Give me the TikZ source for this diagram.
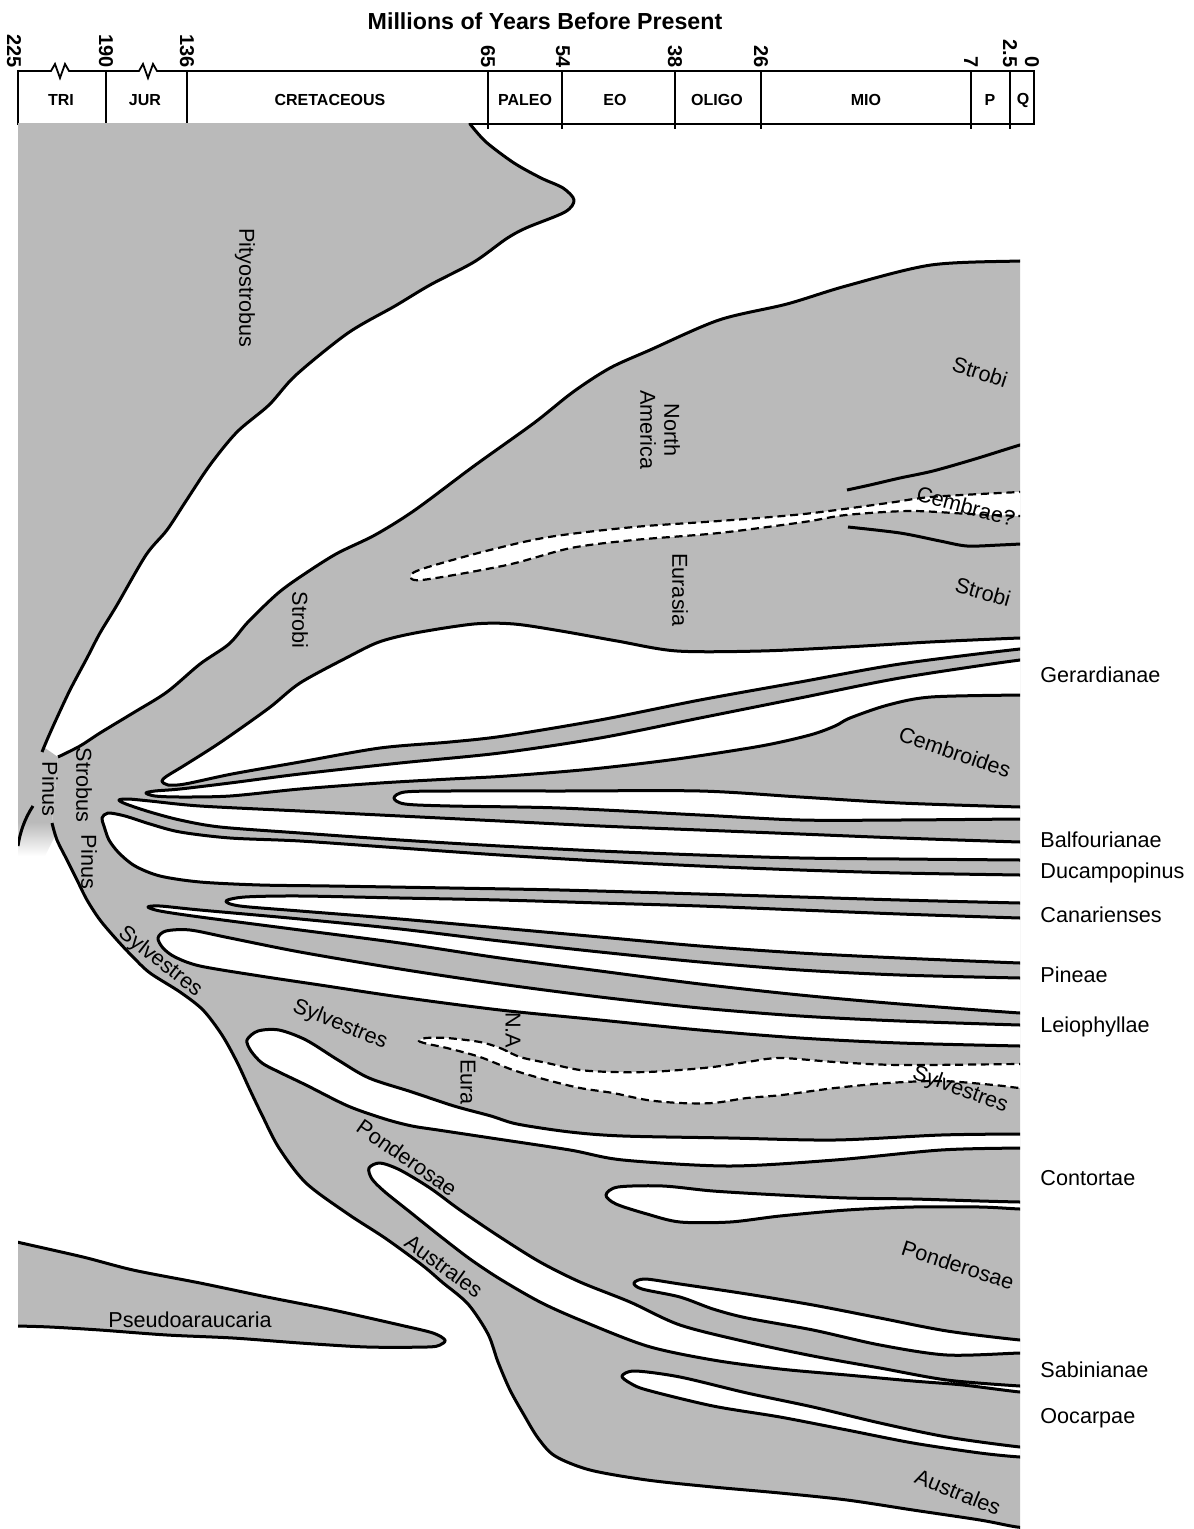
\documentclass[tikz,border=0pt]{standalone}
\usepackage{fontspec}
\setmainfont{Liberation Sans}
\definecolor{stip}{gray}{0.73}

\begin{document}
\begin{tikzpicture}[x=0.5pt, y=-0.5pt,
  band/.style={fill=stip, draw=black, line width=1.5pt, line join=round},
  gap/.style={fill=white, draw=black, line width=1.5pt, line join=round},
  dgap/.style={fill=white, draw=black, line width=1.1pt, dash pattern=on 4pt off 2.4pt},
  rim/.style={draw=black, line width=1.5pt},
  axis/.style={draw=black, line width=0.9pt},
  clade/.style={font=\fontsize{10.8}{12}\selectfont, inner sep=0pt},
  sect/.style={font=\fontsize{10.8}{12}\selectfont, anchor=west, inner sep=0pt},
  per/.style={font=\bfseries\fontsize{8}{9}\selectfont, inner sep=0pt},
  age/.style={font=\bfseries\fontsize{10}{11}\selectfont, rotate=-90, anchor=east, inner sep=0pt}]
\useasboundingbox (0,0) rectangle (1193,1529);

\node[font=\bfseries\fontsize{11.6}{13}\selectfont] (title) at (545,21) {Millions of Years Before Present};
\draw[axis] (18,124) -- (18,71) -- (51,71) -- (55,64) -- (60,78) -- (65,64) -- (69,71) -- (139,71)
  -- (143,64) -- (148,78) -- (153,64) -- (157,71) -- (1034,71) -- (1034,124) -- cycle;
\foreach \x in {106,187,488,562,675,761,971,1010}
  \draw[axis] (\x,71) -- (\x,129);
\foreach \x/\a [count=\i] in {14/225,106/190,187/136,488/65,563/54,675/38,761/26,971/7,1010/2.5,1032/0}
  \node[age] (age\i) at (\x,68) {\a};
\foreach \x/\p [count=\i] in {61/TRI,145/JUR,330/CRETACEOUS,525/PALEO,615/EO,717/OLIGO,866/MIO,990/P,1023/Q}
  \node[per] (per\i) at (\x,100) {\p};

\begin{scope}
\clip (18,124) rectangle (1020,1529);
\fill[stip] (10,730) -- (45,748) -- (58,757) -- (52,823) -- (10,823) -- cycle;
\shade[top color=stip, bottom color=white] (10,822) -- (52,822) -- (55,836) -- (45,856) -- (10,856) -- cycle;
\filldraw[band] (10,770) -- (10,110) -- (470,110) -- plot[smooth] coordinates {(470,124) (486,142) (514,163)
  (541,178) (563,188) (574,200) (565,212) (526,228) (506,239) (474,262) (430,285) (395,306) (348,333)
  (296,375) (269,405) (237,432) (210,465) (186,501) (167,530) (146,555) (117,605) (100,633) (87,658)
  (70,690) (55,722) (47,740) (42,752)};
\filldraw[band] plot[smooth] coordinates {(58,757) (80,746) (100,733) (133,713) (167,692) (200,664)
  (229,644) (248,622) (277,594) (300,577) (336,554) (375,535) (415,510) (474,466) (534,423) (573,392)
  (610,368) (650,350) (719,320) (787,304) (846,286) (931,265) (1020,261) (1040,261)}
  -- (1040,1540) -- plot[smooth] coordinates {(1040,1528) (1017,1527) (980,1520) (913,1510) (847,1500)
  (780,1493) (713,1487) (647,1480) (590,1470) (555,1456) (538,1438) (524,1415) (510,1390) (498,1362)
  (488,1334) (468,1304) (442,1282) (422,1265) (385,1238) (348,1214) (306,1183) (279,1148) (262,1115)
  (250,1090) (237,1062) (222,1035) (203,1010) (180,992) (150,973) (133,957) (117,940) (100,920)
  (87,900) (77,880) (67,860) (57,840) (52,823)};
\filldraw[gap] plot[smooth] coordinates {(1040,638) (1020,638) (930,642) (846,647) (761,651) (677,651)
  (617,641) (561,631) (514,624) (474,624) (415,633) (379,642) (348,657) (300,683) (269,708) (221,742)
  (185,765) (167,776) (162,781) (168,785) (185,784) (232,774) (300,762) (380,748) (450,742) (504,736)
  (600,720) (700,700) (800,682) (900,664) (1020,649) (1040,649)};
\filldraw[gap] plot[smooth] coordinates {(1040,660) (1020,660) (900,678) (800,698) (700,718) (600,738)
  (500,753) (400,763) (300,774) (230,783) (180,789) (155,791) (146,793) (155,796) (180,797) (230,796)
  (300,789) (380,783) (450,779) (507,776) (592,769) (677,759) (761,746) (810,735) (835,726) (850,718)
  (888,705) (931,697) (1020,695) (1040,695)};
\filldraw[gap] plot[smooth] coordinates {(1040,807) (1020,807) (900,803) (800,797) (700,791) (560,791)
  (450,791) (405,792) (394,798) (405,804) (450,806) (560,808) (700,815) (800,820) (900,820) (1020,819)
  (1040,819)};
\filldraw[gap] plot[smooth] coordinates {(1040,842) (1020,842) (900,838) (800,834) (700,830) (600,826)
  (500,821) (400,816) (300,811) (200,806) (150,801) (128,799) (119,800) (126,804) (150,812) (180,820)
  (220,827) (300,833) (400,840) (500,846) (600,851) (700,855) (800,858) (900,859) (1020,860) (1040,860)};
\filldraw[gap] plot[smooth] coordinates {(1040,875) (1020,875) (900,873) (800,870) (700,866) (600,861)
  (500,855) (400,848) (300,841) (230,838) (180,832) (150,824) (125,816) (108,813) (102,818) (104,826)
  (109,840) (119,853) (135,866) (160,876) (200,882) (260,885) (330,886) (450,888) (560,890) (700,894)
  (800,897) (900,900) (1020,903) (1040,903)};
\filldraw[gap] plot[smooth] coordinates {(1040,918) (1020,918) (900,914) (800,910) (700,906) (600,903)
  (500,900) (400,898) (300,896) (245,897) (226,901) (240,906) (300,911) (400,919) (500,928) (600,937)
  (700,946) (800,953) (900,958) (1020,963) (1040,963)};
\filldraw[gap] plot[smooth] coordinates {(1040,978) (1020,978) (900,975) (800,970) (700,962) (600,952)
  (500,941) (400,929) (300,919) (200,910) (160,906) (148,907) (160,911) (200,917) (300,930) (400,943)
  (500,958) (600,971) (700,984) (800,995) (900,1004) (1020,1013) (1040,1013)};
\filldraw[gap] plot[smooth] coordinates {(1040,1025) (1020,1025) (900,1021) (800,1016) (700,1008)
  (600,997) (500,984) (400,969) (300,952) (230,938) (190,930) (166,931) (158,938) (163,948) (175,957)
  (200,966) (260,976) (320,985) (400,997) (500,1010) (600,1020) (700,1030) (800,1038) (900,1043)
  (1020,1046) (1040,1046)};
\filldraw[dgap] plot[smooth] coordinates {(1040,1064) (1020,1064) (900,1065) (835,1062) (780,1058)
  (747,1062) (713,1067) (680,1070) (647,1072) (613,1072) (580,1070) (547,1063) (520,1057) (500,1048)
  (480,1042) (447,1038) (426,1038) (419,1041) (428,1044) (447,1048) (480,1057) (513,1070) (547,1080)
  (580,1088) (613,1093) (647,1100) (680,1103) (713,1103) (747,1098) (782,1095) (835,1088) (888,1083)
  (941,1081) (994,1085) (1020,1088) (1040,1088)};
\filldraw[gap] plot[smooth] coordinates {(1040,1134) (1020,1134) (941,1135) (835,1140) (729,1138)
  (623,1136) (570,1132) (517,1124) (491,1116) (454,1106) (412,1092) (369,1078) (338,1060) (306,1040)
  (279,1030) (258,1031) (247,1040) (251,1051) (262,1063) (279,1072) (306,1085) (348,1106) (385,1119)
  (412,1126) (438,1130) (491,1138) (570,1150) (623,1160) (729,1166) (835,1160) (941,1150) (1020,1148)
  (1040,1148)};
\filldraw[gap] plot[smooth] coordinates {(1040,1202) (1020,1202) (980,1201) (913,1199) (847,1198)
  (780,1195) (713,1191) (663,1186) (618,1187) (606,1195) (616,1204) (647,1214) (680,1222) (730,1222)
  (780,1216) (847,1210) (913,1207) (980,1207) (1020,1209) (1040,1209)};
\filldraw[gap] plot[smooth] coordinates {(1040,1340) (1020,1340) (947,1331) (880,1318) (813,1305)
  (747,1294) (680,1284) (645,1279) (634,1283) (642,1289) (680,1297) (713,1309) (747,1318) (813,1330)
  (880,1345) (947,1355) (1020,1353) (1040,1353)};
\filldraw[gap] plot[smooth] coordinates {(1040,1386) (1020,1386) (947,1380) (880,1368) (813,1356)
  (747,1342) (680,1325) (630,1302) (580,1282) (540,1262) (500,1237) (460,1210) (430,1188) (400,1170)
  (380,1163) (369,1168) (372,1179) (385,1192) (410,1212) (440,1236) (470,1259) (500,1279) (540,1302)
  (580,1320) (647,1346) (713,1360) (780,1369) (847,1375) (913,1381) (963,1385) (1020,1392) (1040,1392)};
\filldraw[gap] plot[smooth] coordinates {(1040,1447) (1020,1447) (947,1437) (880,1423) (813,1407)
  (747,1393) (680,1377) (635,1371) (622,1376) (630,1383) (647,1390) (713,1406) (780,1417) (847,1430)
  (913,1443) (980,1453) (1020,1457) (1040,1457)};
\filldraw[dgap] plot[smooth] coordinates {(1040,492) (1020,492) (931,497) (888,503) (804,514) (719,521)
  (634,527) (549,537) (486,551) (425,568) (411,575) (422,580) (507,565) (571,548) (634,540) (719,533)
  (804,522) (846,515) (910,511) (970,514) (1020,516) (1040,516)};
\draw[rim] plot[smooth] coordinates {(847,490) (870,485) (900,478) (933,471) (975,459) (1020,445) (1040,440)};
\draw[rim] plot[smooth] coordinates {(848,527) (900,533) (940,541) (967,546) (1000,545) (1040,543)};
\filldraw[band] plot[smooth] coordinates {(10,1240) (17,1242) (83,1257) (133,1270) (200,1283) (267,1297)
  (333,1310) (400,1325) (433,1333) (445,1340) (440,1345) (427,1347) (367,1347) (300,1343) (233,1338)
  (167,1335) (100,1330) (50,1327) (17,1326) (10,1326)};
\draw[rim] (33,806) .. controls (25,818) and (20,832) .. (18,846);
\end{scope}

\node[clade, rotate=-90] (pityo) at (245,288) {Pityostrobus};
\node[clade, rotate=-90] (strobiA) at (300,620) {Strobi};
\node[clade, rotate=-90, align=center] (namer) at (660,430) {North\\America};
\node[clade, rotate=-90] (eurasia) at (680,590) {Eurasia};
\node[clade, rotate=-18] (strobiB) at (980,372) {Strobi};
\node[clade, rotate=-15] (cembrae) at (966,506) {Cembrae?};
\node[clade, rotate=-16] (strobiC) at (983,592) {Strobi};
\node[clade, rotate=-19] (cembroides) at (955,752) {Cembroides};
\node[clade, rotate=-90] (pinusA) at (50,789) {Pinus};
\node[clade, rotate=-90] (strobus) at (84,785) {Strobus};
\node[clade, rotate=-90] (pinusB) at (89,862) {Pinus};
\node[clade, rotate=-38] (sylvA) at (160,962) {Sylvestres};
\node[clade, rotate=-22] (sylvB) at (340,1025) {Sylvestres};
\node[clade, rotate=-90] (na) at (513,1033) {N.A.};
\node[clade, rotate=-90] (eura) at (468,1082) {Eura};
\node[clade, rotate=-20] (sylvC) at (960,1090) {Sylvestres};
\node[clade, rotate=-35] (pondA) at (407,1158) {Ponderosae};
\node[clade, rotate=-36] (ausA) at (444,1266) {Australes};
\node[clade, rotate=-18] (pondB) at (958,1265) {Ponderosae};
\node[clade, rotate=-22] (ausB) at (958,1492) {Australes};
\node[clade] (pseudo) at (190,1320) {Pseudoaraucaria};

\foreach \y/\s [count=\i] in {675/Gerardianae,840/Balfourianae,873/Ducampopinus,915/Canarienses,
  975/Pineae,1027/Leiophyllae,1178/Contortae,1370/Sabinianae,1418/Oocarpae}
  \node[sect] (sect\i) at (1040,\y) {\s};
\end{tikzpicture}
\end{document}
